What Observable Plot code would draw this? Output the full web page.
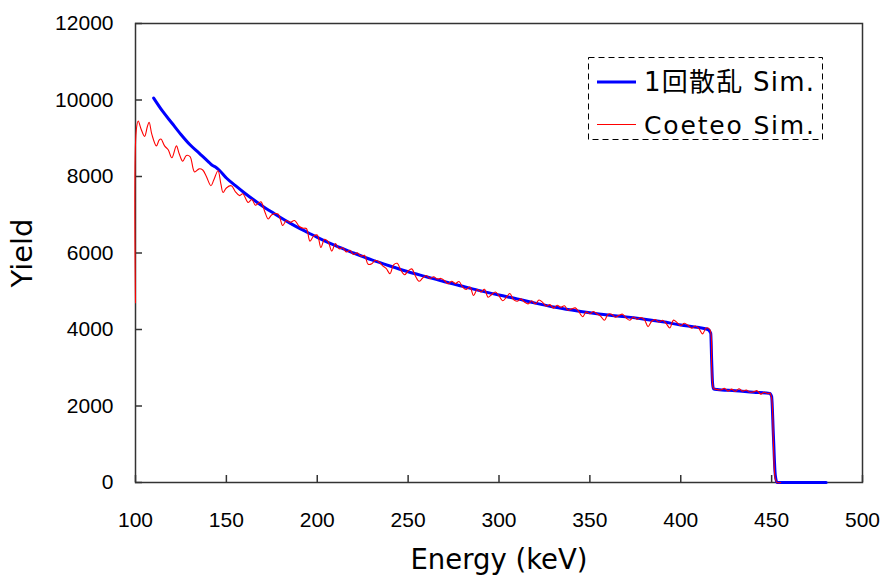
<!DOCTYPE html>
<html>
<head>
<meta charset="utf-8">
<script src="https://cdn.jsdelivr.net/npm/d3@7"></script>
<script src="https://cdn.jsdelivr.net/npm/@observablehq/plot@0.6"></script>
<style>
  html, body { margin: 0; padding: 0; background: #fff; }
  #wrap { position: relative; width: 883px; height: 575px; }
  #legend { position: absolute; left: 0; top: 0; pointer-events: none; }
</style>
</head>
<body>
<div id="wrap"></div>
<script>
// ---- data ----
const xTicks = [100, 150, 200, 250, 300, 350, 400, 450, 500];
const yTicks = [0, 2000, 4000, 6000, 8000, 10000, 12000];

const seriesNames = ["1回散乱 Sim.", "Coeteo Sim."];
const seriesColors = ["#0000ff", "#ff0000"];

// single-scattering simulation (blue)
const blueE = [110, 115, 120, 125, 130, 135, 140, 142, 144, 146, 150, 155, 160, 165, 170, 175, 180, 185, 190, 195, 200,
  210, 220, 230, 240, 250, 260, 270, 280, 290, 300, 310, 320, 330, 340, 350, 360, 370, 380, 390, 400, 410, 415,
  416.5, 417, 417.5, 418, 420, 430, 440, 449, 450, 451, 452, 453, 480];
const blueY = [10050, 9700, 9400, 9100, 8830, 8610, 8390, 8300, 8250, 8170, 7960, 7760, 7570, 7390, 7220, 7070, 6920, 6780, 6650, 6530, 6410,
  6190, 6000, 5820, 5660, 5510, 5380, 5250, 5130, 5010, 4900, 4800, 4690, 4590, 4510, 4440, 4380, 4330, 4270, 4200, 4120, 4050, 4000,
  3900, 3200, 2600, 2450, 2430, 2400, 2360, 2330, 2250, 1200, 200, 0, 0];

// Coeteo simulation (red, noisy)
const redE = [100, 100.4, 101.5, 103, 105, 106.5, 107.5, 109, 111.5, 113, 114, 116, 118, 120, 122.5, 124, 126, 128, 130,
  132.5, 135, 137, 139, 141.5, 143, 145.4, 147, 148.2, 150, 152.7, 155, 157.3, 159, 162, 164, 166, 169, 171, 173, 175,
  178.4, 181, 183, 185, 187.5, 190,
  192, 194, 196, 198, 200, 202, 204, 206, 208, 210, 212, 214, 216, 218, 220, 222, 224, 226, 228, 230,
  232, 234, 236, 238, 240, 242, 244, 246, 248, 250, 252, 254, 256, 258, 260, 262, 264, 266, 268, 270,
  272, 274, 276, 278, 280, 282, 284, 286, 288, 290, 292, 294, 296, 298, 300, 302, 304, 306, 308, 310,
  312, 314, 316, 318, 320, 322, 324, 326, 328, 330, 332, 334, 336, 338, 340, 342, 344, 346, 348, 350,
  352, 354, 356, 358, 360, 362, 364, 366, 368, 370, 372, 374, 376, 378, 380, 382, 384, 386, 388, 390,
  392, 394, 396, 398, 400, 402, 404, 406, 408, 410, 412, 414, 416, 417, 417.5, 418,
  420, 422, 424, 426, 428, 430, 432, 434, 436, 438, 440, 442, 444, 446, 448, 449, 450, 451, 452, 453, 455];
const redY = [4700, 9200, 9450, 9250, 9050, 9300, 9420, 9100, 8800, 8950, 8980, 8800, 8700, 8490, 8800, 8600, 8400, 8550, 8520,
  8120, 8200, 8170, 8000, 7760, 7900, 8150, 7800, 7580, 7700, 7760, 7600, 7500, 7550, 7320, 7400, 7250, 7340, 7100, 6890, 7000,
  7020, 6720, 6850, 6800, 6850, 6700,
  6650, 6640, 6310, 6440, 6470, 6145, 6360, 6295, 6050, 6250, 6110, 6135, 6025, 6070, 5960, 6005, 5920, 5940, 5705, 5720,
  5810, 5765, 5665, 5590, 5460, 5690, 5730, 5550, 5430, 5530, 5585, 5400, 5260, 5345, 5410, 5335, 5380, 5320, 5335, 5280,
  5195, 5260, 5200, 5255, 5110, 5045, 5110, 4890, 5045, 4980, 5050, 4845, 4915, 4980, 4880, 4750, 4840, 4940, 4780, 4740,
  4800, 4720, 4670, 4750, 4670, 4770, 4710, 4610, 4650, 4560, 4635, 4580, 4620, 4505, 4540, 4565, 4460, 4335, 4460, 4410,
  4470, 4405, 4345, 4240, 4400, 4400, 4320, 4370, 4400, 4300, 4240, 4325, 4265, 4315, 4260, 4075, 4215, 4260, 4195, 4240,
  4155, 4040, 4245, 4180, 4100, 4165, 4110, 4035, 4090, 4020, 3885, 4040, 4000, 3000, 2600, 2460,
  2430, 2420, 2460, 2390, 2440, 2380, 2450, 2390, 2420, 2360, 2370, 2400, 2310, 2360, 2320, 2340, 2200, 1000, 100, 0, 0];

const blue = blueE.map((e, i) => ({E: e, Y: blueY[i]}));
const red = redE.map((e, i) => ({E: e, Y: redY[i]}));

const axisFont = "'Liberation Sans', Arial, sans-serif";
const labelFont = "'DejaVu Sans', 'Noto Sans CJK JP', sans-serif";

const chart = Plot.plot({
  width: 883,
  height: 575,
  marginLeft: 135,
  marginRight: 21,
  marginTop: 23,
  marginBottom: 93,
  style: {fontFamily: axisFont, fontSize: "21px", color: "#000", background: "#fff"},
  x: {domain: [100, 500], ticks: xTicks},
  y: {domain: [0, 12000], ticks: yTicks},
  marks: [
    Plot.frame({stroke: "#333", strokeWidth: 1.5}),
    Plot.axisX(xTicks, {tickSize: -7, tickPadding: 37, stroke: "#333", strokeWidth: 1.5, fontSize: 21, label: null, tickFormat: d => String(d)}),
    Plot.axisY(yTicks, {tickSize: -7, tickPadding: 29, stroke: "#333", strokeWidth: 1.5, fontSize: 21, label: null, tickFormat: d => String(d)}),
    Plot.line(blue, {x: "E", y: "Y", stroke: seriesColors[0], strokeWidth: 3, curve: "monotone-x"}),
    Plot.line(red, {x: "E", y: "Y", stroke: seriesColors[1], strokeWidth: 1.1, curve: "catmull-rom"}),
    Plot.text(["Energy (keV)"], {frameAnchor: "bottom", dy: 86, fontSize: 27.5, fontFamily: labelFont, fill: "#000"}),
    Plot.text(["Yield"], {frameAnchor: "left", textAnchor: "middle", dx: -113, rotate: -90, fontSize: 29, fontFamily: labelFont, fill: "#000"})
  ]
});

const wrap = document.getElementById("wrap");
wrap.appendChild(chart);

// legend overlay
const ns = "http://www.w3.org/2000/svg";
const leg = document.createElementNS(ns, "svg");
leg.setAttribute("id", "legend");
leg.setAttribute("width", 883);
leg.setAttribute("height", 575);
const box = document.createElementNS(ns, "rect");
box.setAttribute("x", 588.5); box.setAttribute("y", 57.5);
box.setAttribute("width", 234); box.setAttribute("height", 82);
box.setAttribute("fill", "#fff"); box.setAttribute("stroke", "#000");
box.setAttribute("stroke-width", 1); box.setAttribute("stroke-dasharray", "6,4");
leg.appendChild(box);
const rows = [{y: 82, w: 3}, {y: 124.5, w: 1.2}];
seriesNames.forEach((name, i) => {
  const ln = document.createElementNS(ns, "line");
  ln.setAttribute("x1", 597); ln.setAttribute("x2", 636);
  ln.setAttribute("y1", rows[i].y); ln.setAttribute("y2", rows[i].y);
  ln.setAttribute("stroke", seriesColors[i]); ln.setAttribute("stroke-width", rows[i].w);
  leg.appendChild(ln);
  const t = document.createElementNS(ns, "text");
  t.setAttribute("x", 644); t.setAttribute("y", rows[i].y + 9);
  t.setAttribute("font-family", labelFont);
  t.setAttribute("font-size", i === 0 ? 26 : 25);
  t.setAttribute("textLength", 170);
  t.setAttribute("lengthAdjust", "spacing");
  t.textContent = name;
  leg.appendChild(t);
});
wrap.appendChild(leg);
</script>
</body>
</html>
